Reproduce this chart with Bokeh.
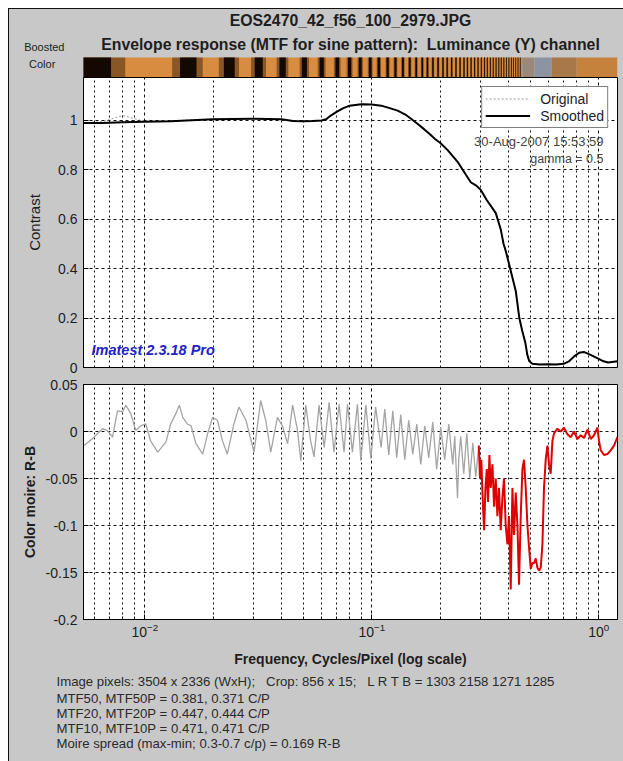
import math
from bokeh.plotting import figure
from bokeh.layouts import column
from bokeh.models import (Range1d, FixedTicker, Label, Legend, LegendItem,
                          NumeralTickFormatter, Title)
from bokeh.embed import file_html
from bokeh.resources import INLINE

# ---------------- data ----------------
NB = "\u00a0"
title_lines = ["EOS2470_42_f56_100_2979.JPG",
               "Envelope response (MTF for sine pattern): " + NB + "Luminance (Y) channel"]
strip_label = ["Boosted", "Color"]

x_major = [0.01, 0.1, 1.0]
x_minor = [0.006, 0.007, 0.008, 0.009,
           0.02, 0.03, 0.04, 0.05, 0.06, 0.07, 0.08, 0.09,
           0.2, 0.3, 0.4, 0.5, 0.6, 0.7, 0.8, 0.9]
contrast_ticks = [0, 0.2, 0.4, 0.6, 0.8, 1.0]
moire_ticks = [-0.2, -0.15, -0.1, -0.05, 0, 0.05]

mtf_freq = [0.0054, 0.0065, 0.008, 0.01, 0.013, 0.02, 0.03, 0.04, 0.045, 0.05,
            0.055, 0.06, 0.063, 0.066, 0.07, 0.075, 0.08, 0.09, 0.1, 0.11,
            0.12, 0.13, 0.14, 0.15, 0.16, 0.17, 0.18, 0.19, 0.2, 0.216,
            0.24, 0.26, 0.273, 0.29, 0.302, 0.32, 0.34, 0.352, 0.37, 0.381,
            0.39, 0.41, 0.431, 0.447, 0.46, 0.475, 0.485, 0.495, 0.51, 0.55,
            0.6, 0.65, 0.7, 0.74, 0.78, 0.82, 0.86, 0.9, 0.95, 1.0,
            1.05, 1.1, 1.21]
mtf_smoothed = [0.99, 0.99, 0.993, 0.995, 0.997, 1.005, 1.007, 1.005, 0.998, 0.997,
                0.998, 1.0, 1.005, 1.02, 1.035, 1.05, 1.06, 1.066, 1.065, 1.06,
                1.05, 1.04, 1.025, 1.005, 0.985, 0.965, 0.945, 0.925, 0.91, 0.88,
                0.83, 0.78, 0.75, 0.735, 0.72, 0.68, 0.645, 0.625, 0.56, 0.50,
                0.47, 0.39, 0.31, 0.20, 0.15, 0.10, 0.05, 0.025, 0.015, 0.012,
                0.013, 0.012, 0.015, 0.025, 0.045, 0.06, 0.063, 0.055, 0.045, 0.035,
                0.025, 0.02, 0.025]
mtf_original = [0.99, 0.995, 1.02, 0.996, 0.998, 1.006, 1.008, 1.004, 0.997, 0.996,
                0.999, 1.001, 1.006, 1.022, 1.034, 1.051, 1.061, 1.067, 1.064, 1.061,
                1.049, 1.041, 1.024, 1.006, 0.984, 0.966, 0.944, 0.926, 0.909, 0.881,
                0.829, 0.781, 0.749, 0.736, 0.719, 0.681, 0.644, 0.626, 0.559, 0.501,
                0.469, 0.391, 0.309, 0.201, 0.149, 0.101, 0.049, 0.026, 0.014, 0.013,
                0.012, 0.013, 0.014, 0.026, 0.044, 0.061, 0.062, 0.056, 0.044, 0.036,
                0.024, 0.021, 0.024]

moire_gray_freq = [0.0054, 0.00598, 0.00651, 0.00685, 0.00721, 0.00758, 0.00798, 0.00825,
                   0.00868, 0.00913, 0.0096, 0.0101, 0.0106, 0.0114, 0.0124, 0.0130,
                   0.0137, 0.0142, 0.0147, 0.0154, 0.0160, 0.0168, 0.0180, 0.0189,
                   0.0199, 0.0209, 0.0220, 0.0231, 0.0247, 0.0260, 0.0279, 0.0303,
                   0.0324, 0.0341, 0.0359, 0.0384, 0.0404, 0.0426, 0.0448, 0.0471,
                   0.0487, 0.0512, 0.0538, 0.0557, 0.0586, 0.0617, 0.0649, 0.0682,
                   0.0718, 0.0755, 0.0782, 0.0822, 0.0865, 0.0895, 0.0942, 0.0991,
                   0.104, 0.110, 0.1141, 0.1188, 0.1238, 0.1288, 0.1342, 0.1398,
                   0.1455, 0.1516, 0.1579, 0.1644, 0.1712, 0.1783, 0.1857, 0.1933,
                   0.2014, 0.2097, 0.2184, 0.2275, 0.2321, 0.2387, 0.2417, 0.2466,
                   0.2543, 0.2622, 0.2703, 0.2787, 0.2873, 0.2962]
moire_gray_val = [-0.015, -0.006, 0.003, 0.001, -0.006, 0.022, 0.021, 0.028,
                  0.019, 0.001, 0.006, 0.008, -0.010, -0.022, -0.011, 0.008,
                  0.019, 0.028, 0.015, 0.008, 0.006, -0.013, -0.024, -0.0025,
                  0.015, 0.012, -0.010, -0.024, 0.008, 0.026, 0.012, -0.022,
                  0.033, 0.012, -0.022, 0.015, 0.006, -0.013, 0.028, 0.001,
                  -0.031, 0.028, -0.010, -0.027, 0.028, -0.017, 0.031, -0.022,
                  0.029, -0.022, 0.029, -0.022, 0.029, -0.031, 0.028, -0.029,
                  0.026, -0.017, 0.024, -0.025, 0.022, -0.028, 0.018, -0.030,
                  0.012, -0.024, 0.008, -0.035, 0.006, -0.028, 0.010, -0.040,
                  0.004, -0.030, 0.008, -0.035, -0.005, -0.071, -0.030, -0.005,
                  -0.045, -0.002, -0.050, -0.012, -0.048, -0.015]

moire_red_freq = [0.2962, 0.300, 0.304, 0.308, 0.3126, 0.317, 0.3213, 0.3254, 0.330,
                  0.3343, 0.3403, 0.3459, 0.3517, 0.3578, 0.3637, 0.370, 0.3765,
                  0.3826, 0.3893, 0.3961, 0.4025, 0.4096, 0.4167, 0.4236, 0.4309,
                  0.4385, 0.4456, 0.4533, 0.4612, 0.4687, 0.4769, 0.4852, 0.4932,
                  0.5018, 0.5105, 0.5188, 0.5278, 0.537, 0.5458, 0.5553, 0.5649,
                  0.5741, 0.5841, 0.5943, 0.604, 0.6145, 0.6252, 0.6355, 0.6578,
                  0.6804, 0.7033, 0.7279, 0.7527, 0.7782, 0.8055, 0.833, 0.8615,
                  0.8918, 0.9221, 0.9535, 0.9869, 1.003, 1.0205, 1.055, 1.092,
                  1.129, 1.168, 1.209, 1.21]
moire_red_val = [-0.015, -0.050, -0.030, -0.070, -0.105, -0.060, -0.040, -0.075, -0.025,
                 -0.060, -0.035, -0.080, -0.050, -0.090, -0.060, -0.105, -0.070,
                 -0.050, -0.100, -0.120, -0.090, -0.168, -0.060, -0.110, -0.065,
                 -0.100, -0.163, -0.090, -0.040, -0.030, -0.060, -0.100, -0.123,
                 -0.146, -0.140, -0.140, -0.135, -0.145, -0.148, -0.145, -0.120,
                 -0.060, -0.030, -0.015, -0.035, -0.045, -0.010, -0.002, 0.003,
                 0.000, 0.004, -0.003, -0.006, 0.000, -0.008, -0.004, -0.007,
                 0.002, -0.008, -0.004, 0.004, -0.010, -0.020, -0.025, -0.024,
                 -0.020, -0.015, -0.006, -0.010]

band_freq = [0.0058, 0.0156, 0.0236, 0.0318, 0.0405, 0.0505, 0.0602, 0.0705, 0.0799,
             0.0890, 0.0985, 0.1075, 0.1175, 0.1272, 0.1372, 0.147, 0.157, 0.167,
             0.176, 0.186, 0.196, 0.206, 0.215, 0.225, 0.235, 0.245, 0.255, 0.264,
             0.274, 0.284, 0.294, 0.304, 0.314, 0.323, 0.333, 0.343, 0.353, 0.363,
             0.372, 0.382, 0.392, 0.402, 0.412, 0.421, 0.431, 0.441, 0.451]
strip_seg_start = [0.00537, 0.46, 0.52, 0.62, 0.80]
strip_seg_end = [0.46, 0.52, 0.62, 0.80, 1.21]
strip_seg_color = ["#d88c40", "#9c8878", "#8c94a4", "#a87848", "#c4823c"]

footer_lines = ["Image pixels: 3504 x 2336 (WxH);" + NB * 2 + " Crop: 856 x 15;" + NB * 2
                + " L R T B = 1303 2158 1271 1285",
                "MTF50, MTF50P = 0.381, 0.371 C/P",
                "MTF20, MTF20P = 0.447, 0.444 C/P",
                "MTF10, MTF10P = 0.471, 0.471 C/P",
                "Moire spread (max-min; 0.3-0.7 c/p) = 0.169 R-B"]

# ---------------- style / layout ----------------
FONT = "Liberation Sans"
GRAY = "#c8c8c8"
TXT = "#1e1e1e"
W = 614
LB, RB = 74, 6
XR = (0.00537, 1.21)
FRAME_W = W - LB - RB
DEC_PER_PX = math.log10(XR[1] / XR[0]) / FRAME_W


def fx(px_from_frame_left):
    """frequency at a pixel offset from the frame's left edge"""
    return 10 ** (math.log10(XR[0]) + px_from_frame_left * DEC_PER_PX)


def base_fig(height, y_range, top, bottom):
    p = figure(width=W, height=height, x_axis_type="log", x_range=Range1d(*XR),
               y_range=y_range, output_backend="svg", toolbar_location=None,
               min_border_left=LB, min_border_right=RB,
               min_border_top=top, min_border_bottom=bottom)
    p.background_fill_color = "white"
    p.border_fill_color = GRAY
    p.outline_line_color = "black"
    p.outline_line_width = 1
    return p


def style_grid(p):
    for g in (p.xgrid, p.ygrid):
        g.grid_line_color = "#111111"
        g.grid_line_dash = "3 3"
        g.grid_line_width = 1
    p.xgrid.minor_grid_line_color = "#111111"
    p.xgrid.minor_grid_line_dash = "2 3"
    p.xgrid.ticker = FixedTicker(ticks=x_major, minor_ticks=x_minor)


def style_yaxis(ax, ticks, label, bold, standoff, size):
    ax.ticker = FixedTicker(ticks=ticks)
    ax.formatter = NumeralTickFormatter(format="0.[00]")
    ax.axis_label = label
    ax.axis_label_text_font = FONT
    ax.axis_label_text_font_size = size
    ax.axis_label_text_font_style = "bold" if bold else "normal"
    ax.axis_label_text_color = TXT
    ax.axis_label_standoff = standoff
    ax.major_label_text_font = FONT
    ax.major_label_text_font_size = "14px"
    ax.major_label_text_color = TXT
    ax.major_tick_in = 5
    ax.major_tick_out = 0
    ax.minor_tick_line_color = None
    ax.major_label_standoff = 6
    ax.axis_line_color = "black"


# ---- strip + titles (frame covers whole header; strip = y 0..1) ----
ps = base_fig(68, Range1d(0, 3.4), 0, 0)
ps.xaxis.visible = False
ps.grid.visible = False
ps.outline_line_color = None
ps.background_fill_color = GRAY
ps.quad(left=strip_seg_start, right=strip_seg_end, bottom=0, top=1,
        color=strip_seg_color, line_color=None)
ps.quad(left=[f - 0.0024 for f in band_freq], right=[f + 0.0024 for f in band_freq],
        bottom=0, top=1, color="#2a1406", alpha=0.45, line_color=None)
ps.quad(left=[f - 0.0013 for f in band_freq], right=[f + 0.0013 for f in band_freq],
        bottom=0, top=1, color="#140802", line_color=None)
xc = fx(FRAME_W / 2)
for i, t in enumerate(title_lines):
    ps.add_layout(Label(x=xc, y=[2.85, 1.65][i], text=t, text_align="center",
                        text_baseline="middle", text_font=FONT, text_font_size="15.8px",
                        text_font_style="bold", text_color=TXT))
ya = ps.yaxis[0]
ya.ticker = FixedTicker(ticks=[1.55, 0.7])
ya.major_label_overrides = {1.55: strip_label[0], 0.7: strip_label[1] + NB * 3}
ya.major_label_text_font = FONT
ya.major_label_text_font_size = "11px"
ya.major_label_text_color = TXT
ya.major_label_standoff = 13
ya.axis_line_color = None
ya.major_tick_line_color = None
ya.minor_tick_line_color = None

# ---- top MTF plot ----
p1 = base_fig(299, Range1d(0, 1.174), 0, 9)
p1.xaxis.visible = False
style_grid(p1)
style_yaxis(p1.yaxis[0], contrast_ticks, "Contrast", False, 12, "15px")
r_orig = p1.line(mtf_freq, mtf_original, line_color="#9a9a9a", line_width=1, line_dash="2 2")
r_sm = p1.line(mtf_freq, mtf_smoothed, line_color="black", line_width=2)
leg = Legend(items=[LegendItem(label="Original", renderers=[r_orig]),
                    LegendItem(label="Smoothed", renderers=[r_sm])],
             location="top_right", margin=9, padding=3, spacing=0,
             label_height=17, glyph_height=17, glyph_width=45, label_standoff=10,
             label_text_font=FONT, label_text_font_size="14px", label_text_color=TXT,
             border_line_color="black", background_fill_color="white",
             background_fill_alpha=1)
p1.add_layout(leg)
xr = fx(FRAME_W - 14)
p1.add_layout(Label(x=xr, y=0.915, text="30-Aug-2007 15:53:59", text_align="right",
                    text_baseline="middle", text_font=FONT, text_font_size="13px",
                    text_color="#444444"))
p1.add_layout(Label(x=xr, y=0.846, text="gamma = 0.5", text_align="right",
                    text_baseline="middle", text_font=FONT, text_font_size="12.5px",
                    text_color="#444444"))
p1.add_layout(Label(x=fx(8), y=0.069, text="Imatest 2.3.18 Pro", text_align="left",
                    text_baseline="middle", text_font=FONT, text_font_size="14.5px",
                    text_font_style="bold italic", text_color="#2222c8"))

# ---- bottom moire plot ----
p2 = base_fig(385, Range1d(-0.2, 0.05), 8, 142)
style_grid(p2)
style_yaxis(p2.yaxis[0], moire_ticks, "Color moire: R-B", True, 5, "14px")
ax = p2.xaxis[0]
ax.ticker = FixedTicker(ticks=x_major, minor_ticks=x_minor)
ax.major_label_text_font = FONT
ax.major_label_text_font_size = "14px"
ax.major_label_text_color = TXT
ax.major_tick_in = 5
ax.major_tick_out = 0
ax.minor_tick_in = 3
ax.minor_tick_out = 0
ax.major_label_standoff = 3
ax.axis_label = "Frequency, Cycles/Pixel (log scale)"
ax.axis_label_text_font = FONT
ax.axis_label_text_font_size = "14px"
ax.axis_label_text_font_style = "bold"
ax.axis_label_text_color = TXT
ax.axis_label_standoff = 11
p2.line(moire_gray_freq, moire_gray_val, line_color="#a4a4a4", line_width=1.3)
p2.line(moire_red_freq, moire_red_val, line_color="#e00000", line_width=2)
for i, t in enumerate(footer_lines):
    p2.add_layout(Title(text=t, align="left", offset=-27, standoff=4 if i == 0 else -1.6,
                        text_font=FONT, text_font_size="13.2px", text_font_style="normal",
                        text_color="#2a2a2a"), "below")

layout = column(ps, p1, p2, spacing=0,
                styles={"margin-left": "8px", "margin-top": "8px",
                        "border-left": "1px solid #111", "border-top": "1px solid #111",
                        "background-color": GRAY})
open("out.html", "w").write(file_html(layout, INLINE))
